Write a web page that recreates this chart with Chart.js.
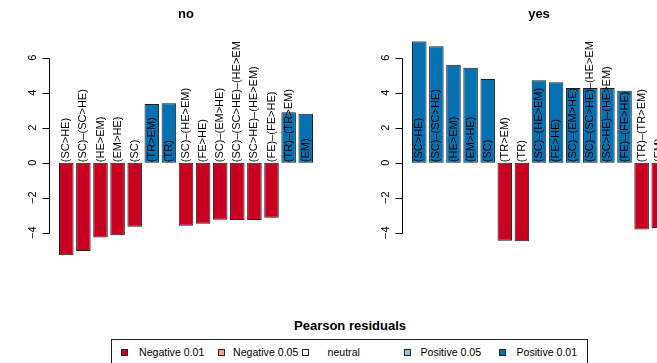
<!DOCTYPE html>
<html>
<head>
<meta charset="utf-8">
<script src="https://cdn.jsdelivr.net/npm/chart.js@4/dist/chart.umd.min.js"></script>
<style>
  html, body { margin: 0; padding: 0; background: #fff; overflow: hidden; }
  #wrap { position: relative; width: 657px; height: 363px; overflow: hidden; font-family: "Liberation Sans", Arial, sans-serif; }
  canvas.panel { position: absolute; top: 0; }
  #pNo { left: 0; }
  #pYes { left: 353px; }
  #legTitle { position: absolute; left: 200px; width: 300px; top: 319px; text-align: center;
              font: bold 13px/14px "Liberation Sans", Arial, sans-serif; color: #000; }
  #legBox { position: absolute; left: 111px; top: 339px; width: 477px; height: 60px; border: 1px solid #222; box-sizing: border-box; }
  .sw { position: absolute; width: 7px; height: 7px; border: 1px solid #222; box-sizing: border-box; top: 349px; }
  .lt { position: absolute; top: 346px; font: 10.6px/13px "Liberation Sans", Arial, sans-serif; color: #000; white-space: nowrap; }
</style>
</head>
<body>
<div id="wrap">
  <canvas id="pNo" class="panel" width="354" height="290"></canvas>
  <canvas id="pYes" class="panel" width="354" height="290"></canvas>
  <div id="legTitle">Pearson residuals</div>
  <div id="legBox"></div>
</div>
<script>
// Discriminating subsequences, ordered by overall discrimination
const categories = [
  "(SC>HE)", "(SC)–(SC>HE)", "(HE>EM)", "(EM>HE)", "(SC)",
  "(TR>EM)", "(TR)", "(SC)–(HE>EM)", "(FE>HE)", "(SC)–(EM>HE)",
  "(SC)–(SC>HE)–(HE>EM)", "(SC>HE)–(HE>EM)", "(FE)–(FE>HE)", "(TR)–(TR>EM)", "(EM)"
];

// Pearson residuals per group
const residualsNo  = [-5.29, -5.05, -4.27, -4.15, -3.66, 3.35, 3.39, -3.60, -3.49, -3.26, -3.27, -3.27, -3.14, 2.88, 2.80];
const residualsYes = [ 6.94,  6.65,  5.60,  5.43,  4.78, -4.46, -4.49, 4.71, 4.59, 4.27, 4.27, 4.27, 4.11, -3.81, -3.73];

const panelTitles = ["no", "yes"];
const yTicks = [-4, -2, 0, 2, 4, 6];

// Legend: residual classes
const legendLabels = ["Negative 0.01", "Negative 0.05", "neutral", "Positive 0.05", "Positive 0.01"];
const legendColors = ["#CA0020", "#F4A582", "#FFFFFF", "#92C5DE", "#0571B0"];

const FONT = '"Liberation Sans", Arial, sans-serif';
const allValues = residualsNo.concat(residualsYes);
const yMin = Math.min(...allValues);
const yMax = Math.max(...allValues);

// Vertical labels inside/above each bar, starting at the zero line
const barLabels = {
  id: 'barLabels',
  afterDatasetsDraw(chart) {
    const { ctx, chartArea, scales: { y } } = chart;
    const meta = chart.getDatasetMeta(0);
    const y0 = y.getPixelForValue(0);
    ctx.save();
    ctx.beginPath();
    ctx.rect(chartArea.left, chartArea.top, chartArea.right - chartArea.left, chartArea.bottom - chartArea.top);
    ctx.clip();
    ctx.font = '11px ' + FONT;
    ctx.fillStyle = '#000';
    ctx.textAlign = 'left';
    ctx.textBaseline = 'middle';
    meta.data.forEach((bar, i) => {
      ctx.save();
      ctx.translate(bar.x, y0 - 0.5);
      ctx.rotate(-Math.PI / 2);
      ctx.fillText(categories[i], 0, 0);
      ctx.restore();
    });
    ctx.restore();
  }
};

// Left axis with rotated tick labels
const sideAxis = {
  id: 'sideAxis',
  afterDraw(chart) {
    const { ctx, chartArea, scales: { y } } = chart;
    const x = Math.round(chartArea.left) + 0.5;
    ctx.save();
    ctx.strokeStyle = '#000';
    ctx.lineWidth = 1;
    ctx.beginPath();
    const top = Math.round(y.getPixelForValue(yTicks[yTicks.length - 1])) + 0.5;
    const bot = Math.round(y.getPixelForValue(yTicks[0])) + 0.5;
    ctx.moveTo(x, top);
    ctx.lineTo(x, bot);
    yTicks.forEach(t => {
      const py = Math.round(y.getPixelForValue(t)) + 0.5;
      ctx.moveTo(x, py);
      ctx.lineTo(x - 7, py);
    });
    ctx.stroke();
    ctx.font = '11px ' + FONT;
    ctx.fillStyle = '#000';
    ctx.textAlign = 'center';
    ctx.textBaseline = 'middle';
    yTicks.forEach(t => {
      const py = y.getPixelForValue(t);
      ctx.save();
      ctx.translate(x - 17, py);
      ctx.rotate(-Math.PI / 2);
      ctx.fillText(String(t).replace('-', '\u2212'), 0, 0);
      ctx.restore();
    });
    ctx.restore();
  }
};

function makePanel(canvasId, title, values) {
  return new Chart(document.getElementById(canvasId), {
    type: 'bar',
    data: {
      datasets: [{
        data: values.map((v, i) => ({ x: i, y: v })),
        backgroundColor: values.map(v => v < 0 ? legendColors[0] : legendColors[4]),
        borderColor: '#1e1e1e',
        borderWidth: 1,
        borderSkipped: false,
        categoryPercentage: 1,
        barPercentage: 0.85
      }]
    },
    options: {
      responsive: false,
      animation: false,
      devicePixelRatio: 1,
      layout: { padding: { left: 49, right: 31, top: 0, bottom: 34.7 } },
      scales: {
        x: { type: 'linear', display: false, offset: false, min: -1.01, max: categories.length - 1 + 1.01,
             ticks: { stepSize: 1 } },
        y: { type: 'linear', display: false, min: yMin, max: yMax }
      },
      plugins: {
        legend: { display: false },
        tooltip: { enabled: false },
        title: {
          display: true, text: title, fullSize: false, color: '#000',
          font: { family: FONT, size: 13, weight: 'bold', lineHeight: 1.2 },
          padding: { top: 7, bottom: 18.6 }
        }
      }
    },
    plugins: [barLabels, sideAxis]
  });
}

makePanel('pNo', panelTitles[0], residualsNo);
makePanel('pYes', panelTitles[1], residualsYes);

// Legend entries
const swatchX = [124, 221.5, 305.5, 407, 502.5];
const textX = [139, 233, 327.5, 420.5, 516.5];
const wrap = document.getElementById('wrap');
legendLabels.forEach((lab, i) => {
  const sw = document.createElement('div');
  sw.className = 'sw';
  sw.style.left = (swatchX[i] - 3.5) + 'px';
  sw.style.background = legendColors[i];
  wrap.appendChild(sw);
  const t = document.createElement('div');
  t.className = 'lt';
  t.style.left = textX[i] + 'px';
  t.textContent = lab;
  wrap.appendChild(t);
});
</script>
</body>
</html>
